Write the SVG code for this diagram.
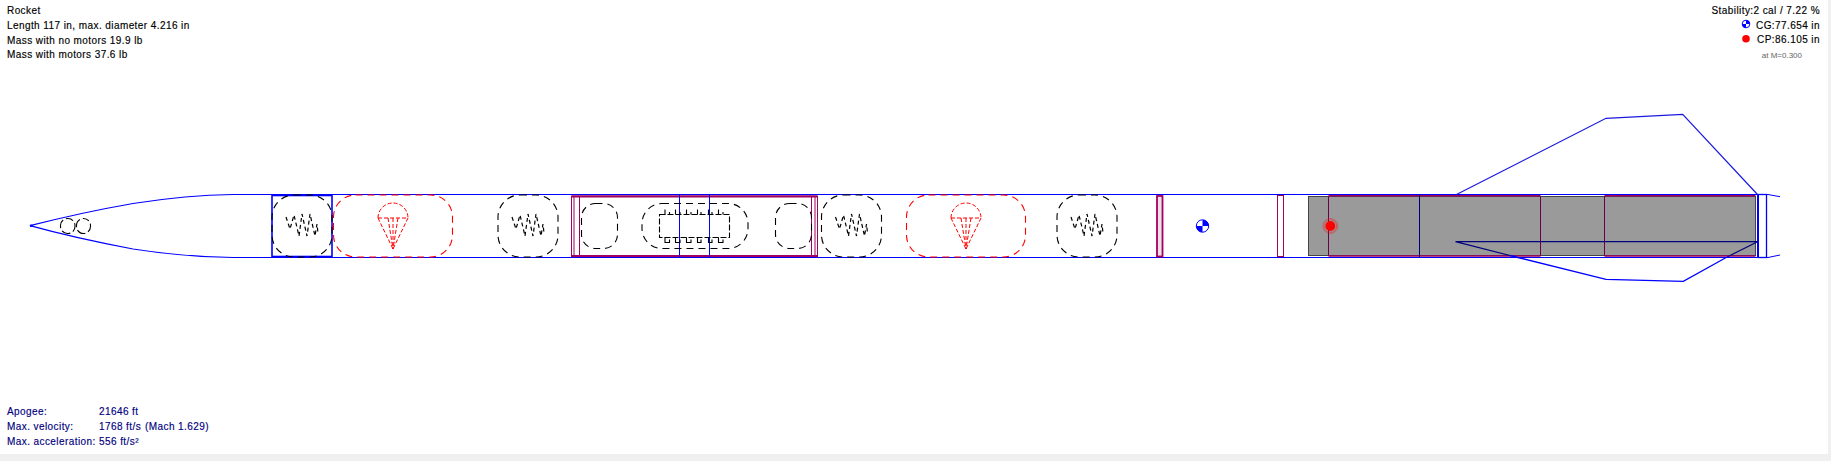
<svg xmlns="http://www.w3.org/2000/svg" xmlns:xlink="http://www.w3.org/1999/xlink" width="1831" height="461" viewBox="0 0 1831 461">
<style>
text{font-family:"Liberation Sans",Arial,sans-serif;font-size:10px;letter-spacing:.42px;fill:#000;stroke:#000;stroke-width:.15px}
.nv{fill:#000080;stroke:#000080}
.b{fill:none;stroke:#00f;stroke-width:1}
.b2{fill:none;stroke:#00f;stroke-width:1.6}
.p{fill:none;stroke:#a0005f;stroke-width:1}
.pd{fill:none;stroke:#6a0048;stroke-width:1}
.k{fill:none;stroke:#000;stroke-width:1.1;stroke-dasharray:7 5}
.r{fill:none;stroke:#f00;stroke-width:1.1;stroke-dasharray:7 5}
.rs{fill:none;stroke:#f00;stroke-width:1;stroke-dasharray:4 2}
.w{fill:none;stroke:#000;stroke-width:1.2;stroke-dasharray:4 3}
.c{fill:none;stroke:#000;stroke-width:1.1}
</style>
<defs>
<g id="wad">
<rect class="k" x="-30" y="-31" width="60" height="62" rx="22" ry="22"/>
<path class="w" d="M-16-9-12 3-8-11-3 10 0-12 5 10 8-12 13 10 15-2 16 7"/>
</g>
<g id="chute">
<rect class="r" x="-59.5" y="-31" width="119" height="62" rx="22" ry="22"/>
<path class="rs" d="M-15-8A15 15 0 0 1 15-8M-15-8H15M-15-8 0 23M-5-8 0 23M0-8V23M5-8 0 23M15-8 0 23"/>
</g>
</defs>
<rect width="1831" height="461" fill="#fff"/>
<rect x="1828" width="3" height="461" fill="#f0f0f0"/>
<rect y="454" width="1831" height="7" fill="#f0f0f0"/>

<g id="motor-tube"><rect x="1308.5" y="196.5" width="447" height="59" fill="#9a9a9a" stroke="#444" stroke-width="1"/></g>

<g id="nose-cone">
<path class="b" style="stroke-width:1.2" d="M30 225.7C60 218 90 211 133 203.5C165 198.5 195 195 233 194.5M30 225.7C60 234 90 241 133 249C165 254 195 257 233 257.5"/>
<circle cx="31" cy="225.7" r="1.2" fill="#00f"/>
<rect class="k" style="stroke-dasharray:9 3" x="60.5" y="218.5" width="14.5" height="15" rx="7" stroke-dashoffset="3"/>
<rect class="k" style="stroke-dasharray:9 3" x="76.5" y="218.5" width="14" height="15" rx="7" stroke-dashoffset="3"/>
</g>
<g id="body-tube"><path class="b" d="M233 194.5H1757.5M233 257.5H1757.5"/></g>
<g id="bulkhead-1"><rect class="b2" x="272" y="195.5" width="60" height="61"/></g>
<g id="wadding-1"><use xlink:href="#wad" href="#wad" x="302" y="226"/></g>
<g id="chute-1"><use xlink:href="#chute" href="#chute" x="393" y="226"/></g>
<g id="wadding-2"><use xlink:href="#wad" href="#wad" x="528" y="226"/></g>
<g id="coupler">
<rect class="p" x="571.5" y="196" width="246" height="61"/>
<path class="p" d="M574 196V256M579.5 196V256M811.5 196V256M815 196V256"/>
<path d="M572 196.5H817M572 256H817" stroke="#a0005f" stroke-width="1.8" fill="none"/>
<path class="b" d="M679.5 194.5V257.5M709.5 194.5V257.5M572 194.5H817M572 257.5H817"/>
</g>
<g id="avbay-items">
<rect class="k" x="581.5" y="203.5" width="36" height="45" rx="14"/>
<rect class="k" x="642" y="203.5" width="106" height="45" rx="20"/>
<rect class="k" x="775.5" y="203.5" width="36" height="45" rx="14"/>
<rect class="c" style="stroke-dasharray:6 2" x="659.5" y="214.5" width="70" height="23"/>
<path class="c" d="M665 209.5V214.5M669.5 212V214.5M675.5 209.5V214.5M680 212V214.5M686.5 209.5V214.5M691 212V214.5M697.5 209.5V214.5M701 212V214.5M708.5 209.5V214.5M712 212V214.5M718.5 209.5V214.5M723 212V214.5"/>
<path class="c" d="M665 237.5V242.5H669.5V239.5M675.5 237.5V242.5H680V239.5M686.5 237.5V242.5H691V239.5M697.5 237.5V242.5H701V239.5M708.5 237.5V242.5H712V239.5M718.5 237.5V242.5H723V239.5"/>
</g>
<g id="wadding-3"><use xlink:href="#wad" href="#wad" x="851.5" y="226"/></g>
<g id="chute-2"><use xlink:href="#chute" href="#chute" x="966" y="226"/></g>
<g id="wadding-4"><use xlink:href="#wad" href="#wad" x="1087" y="226"/></g>
<g id="ring-1"><rect x="1157" y="196" width="5.5" height="60.5" fill="#f0e0ea" stroke="#a0005f" stroke-width="1.8"/></g>
<g id="cg-marker">
<circle cx="1202.5" cy="226" r="6.2" fill="#fff" stroke="#00f"/>
<path d="M1202.5 219.8A6.2 6.2 0 0 1 1208.7 226H1202.5V232.2A6.2 6.2 0 0 1 1196.3 226H1202.5Z" fill="#00f"/>
</g>
<g id="ring-2"><rect x="1277.5" y="195.5" width="6" height="61" fill="#fff" stroke="#a0005f" stroke-width="1"/></g>
<g id="motor-mount">
<path class="pd" d="M1328.5 196V256M1540.5 196V256M1604.5 196V256"/>
<path d="M1328.5 195.8H1540.5M1604.5 195.8H1755.5M1328.5 256H1540.5M1604.5 256H1755.5" stroke="#a0005f" stroke-width="1.5" fill="none"/>
<path d="M1419.5 195V257" stroke="#00007c" stroke-width="1" fill="none"/>
</g>
<g id="tail">
<rect x="1758" y="194.5" width="8.5" height="63" fill="none" stroke="#00f" stroke-width="1.3"/>
<path class="b" style="stroke-width:2" d="M1758 194.5V257.5"/>
<path class="b" d="M1766.5 194.5H1768L1780 196.7M1766.5 257.5H1768L1780 255"/>
</g>
<g id="fins">
<path class="b" style="stroke:#1a1ae0;stroke-width:1.2" d="M1456.5 194.5 1606 118.3 1682.7 114.3 1757.5 194.5"/>
<path class="b" style="stroke-width:1.3" d="M1510 255.5 1606 279.3 1683.3 281.3 1728 256.5"/>
<path d="M1510 255.5 1455.5 241.7H1757.5L1728 256.5" fill="none" stroke="#00007c" stroke-width="1.2"/>
</g>
<g id="cp-marker">
<circle cx="1330.3" cy="226" r="5" fill="#f00"/>
<circle cx="1330.3" cy="226" r="6.3" fill="none" stroke="#f00" stroke-opacity=".6" stroke-width=".7"/>
<circle cx="1330.3" cy="226" r="7.5" fill="none" stroke="#f00" stroke-opacity=".5" stroke-width=".7"/>
</g>

<g id="info-top-left">
<text x="7" y="14">Rocket</text>
<text x="7" y="29">Length 117 in, max. diameter 4.216 in</text>
<text x="7" y="43.5">Mass with no motors 19.9 lb</text>
<text x="7" y="58">Mass with motors 37.6 lb</text>
</g>
<g id="info-top-right">
<text x="1820" y="14" text-anchor="end">Stability:2 cal / 7.22 %</text>
<text x="1756" y="29">CG:</text>
<text x="1820" y="29" text-anchor="end">77.654 in</text>
<text x="1757" y="43">CP:</text>
<text x="1820" y="43" text-anchor="end">86.105 in</text>
<text x="1802" y="57.5" text-anchor="end" style="font-size:8px;letter-spacing:0;fill:#666;stroke:none">at M=0.300</text>
<circle cx="1746" cy="24" r="3.8" fill="#fff" stroke="#00f"/>
<path d="M1746 20.2A3.8 3.8 0 0 1 1749.8 24H1746V27.800A3.8 3.8 0 0 1 1742.200 24H1746Z" fill="#00f"/>
<circle cx="1746" cy="38.7" r="3.8" fill="#f00"/>
</g>
<g id="info-bottom-left">
<text class="nv" x="7" y="415">Apogee:</text>
<text class="nv" x="99" y="415">21646 ft</text>
<text class="nv" x="7" y="430">Max. velocity:</text>
<text class="nv" x="99" y="430">1768 ft/s</text>
<text class="nv" x="145" y="430">(Mach 1.629)</text>
<text class="nv" x="7" y="445">Max. acceleration:</text>
<text class="nv" x="99" y="445">556 ft/s²</text>
</g>
</svg>
